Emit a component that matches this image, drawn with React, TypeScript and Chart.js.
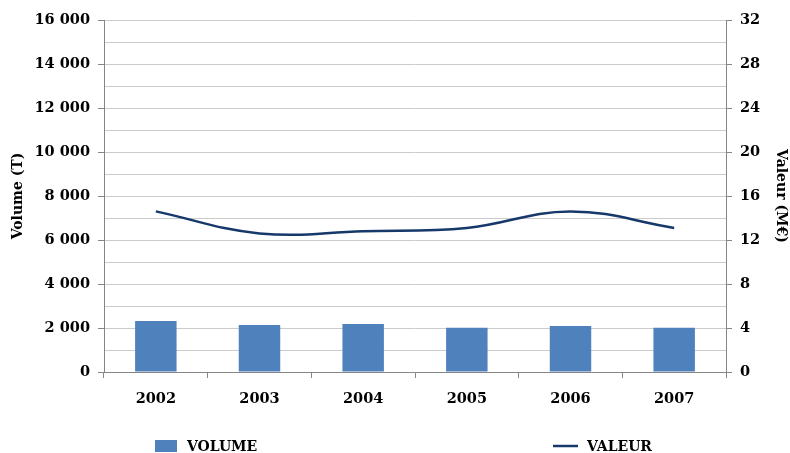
import React, { useEffect, useRef } from 'react';
import { Chart, registerables } from 'chart.js';

Chart.register(...registerables);

const YEARS = ['2002', '2003', '2004', '2005', '2006', '2007'];
const VOLUME = [2320, 2140, 2180, 2010, 2090, 2010];
const VALEUR = [14.6, 12.6, 12.8, 13.1, 14.6, 13.1];
const VOLUME_LABEL = 'VOLUME';
const VALEUR_LABEL = 'VALEUR';
const LEFT_TITLE = 'Volume (T)';
const RIGHT_TITLE = 'Valeur (M€)';

const FONT = "'DejaVu Serif', serif";
const FS = 14.5;
const BAR_COLOR = '#4F81BD';
const LINE_COLOR = '#17386A';
const AXIS_COLOR = '#868686';
const GRID_COLOR = '#cbcbcb';

const fmtThousands = (v: number) =>
  String(v).replace(/\B(?=(\d{3})+(?!\d))/g, ' ');

const legendPlugin = {
  id: 'customLegend',
  afterDraw(chart: any) {
    const { ctx, chartArea } = chart;
    const y = 446;
    ctx.save();
    ctx.font = `bold 14px ${FONT}`;
    ctx.textBaseline = 'middle';
    const bx = chartArea.left + 51;
    ctx.fillStyle = BAR_COLOR;
    ctx.fillRect(bx, y - 6, 22, 12);
    ctx.fillStyle = '#000';
    ctx.fillText(VOLUME_LABEL, bx + 32, y + 1);
    const lx = chartArea.left + 449;
    ctx.strokeStyle = LINE_COLOR;
    ctx.lineWidth = 2.5;
    ctx.beginPath();
    ctx.moveTo(lx, y);
    ctx.lineTo(lx + 25, y);
    ctx.stroke();
    ctx.fillText(VALEUR_LABEL, lx + 34, y + 1);
    ctx.restore();
  },
};

export default function App() {
  const ref = useRef<HTMLCanvasElement | null>(null);

  useEffect(() => {
    if (!ref.current) return;
    const chart = new Chart(ref.current, {
      type: 'bar',
      data: {
        labels: YEARS,
        datasets: [
          {
            type: 'line',
            label: VALEUR_LABEL,
            data: VALEUR,
            yAxisID: 'y1',
            borderColor: LINE_COLOR,
            backgroundColor: LINE_COLOR,
            borderWidth: 2.5,
            pointRadius: 0,
            tension: 0.4,
            fill: false,
            order: 0,
          } as any,
          {
            type: 'bar',
            label: VOLUME_LABEL,
            data: VOLUME,
            yAxisID: 'y',
            backgroundColor: BAR_COLOR,
            borderWidth: 0,
            categoryPercentage: 1,
            barPercentage: 0.4,
            order: 1,
          },
        ],
      },
      options: {
        animation: false,
        responsive: false,
        maintainAspectRatio: false,
        layout: { padding: { top: 20, bottom: 41, left: 0, right: 0 } },
        plugins: {
          legend: { display: false },
          tooltip: { enabled: false },
        },
        scales: {
          x: {
            grid: {
              display: true,
              drawOnChartArea: false,
              drawTicks: true,
              tickLength: 6,
              color: AXIS_COLOR,
              offset: true,
            },
            border: { color: AXIS_COLOR, width: 1 },
            ticks: {
              color: '#000',
              font: { family: FONT, size: FS, weight: 'bold' },
              padding: 13,
              maxRotation: 0,
            },
            afterFit: (s: any) => {
              s.height = 40;
            },
          },
          y: {
            position: 'left',
            min: 0,
            max: 16000,
            grid: {
              color: GRID_COLOR,
              tickLength: 6,
              tickColor: (c: any) =>
                c.tick && c.tick.value % 2000 === 0 ? AXIS_COLOR : 'rgba(0,0,0,0)',
            },
            border: { color: AXIS_COLOR, width: 1 },
            ticks: {
              stepSize: 1000,
              maxTicksLimit: 40,
              autoSkip: false,
              color: '#000',
              padding: 8,
              font: { family: FONT, size: FS, weight: 'bold' },
              callback: (v: any) => (Number(v) % 2000 === 0 ? fmtThousands(Number(v)) : ''),
            },
            title: {
              display: true,
              text: LEFT_TITLE,
              color: '#000',
              font: { family: FONT, size: 14, weight: 'bold', lineHeight: 1.2 },
              padding: { top: 10, bottom: 0 },
            },
            afterFit: (s: any) => {
              s.width = 104;
            },
          },
          y1: {
            position: 'right',
            min: 0,
            max: 32,
            grid: {
              drawOnChartArea: false,
              tickLength: 6,
              tickColor: (c: any) =>
                c.tick && c.tick.value % 4 === 0 ? AXIS_COLOR : 'rgba(0,0,0,0)',
            },
            border: { color: AXIS_COLOR, width: 1 },
            ticks: {
              stepSize: 2,
              maxTicksLimit: 40,
              autoSkip: false,
              color: '#000',
              padding: 8,
              font: { family: FONT, size: FS, weight: 'bold' },
              callback: (v: any) => (Number(v) % 4 === 0 ? String(v) : ''),
            },
            title: {
              display: true,
              text: RIGHT_TITLE,
              color: '#000',
              font: { family: FONT, size: 14, weight: 'bold', lineHeight: 1.2 },
              padding: { top: 1, bottom: 0 },
            },
            afterFit: (s: any) => {
              s.width = 64;
            },
          },
        },
      },
      plugins: [legendPlugin],
    });
    return () => chart.destroy();
  }, []);

  return (
    <div style={{ position: 'absolute', left: 0, top: 0, width: 790, height: 453, background: '#fff' }}>
      <canvas ref={ref} width={790} height={453} style={{ width: 790, height: 453 }} />
    </div>
  );
}
